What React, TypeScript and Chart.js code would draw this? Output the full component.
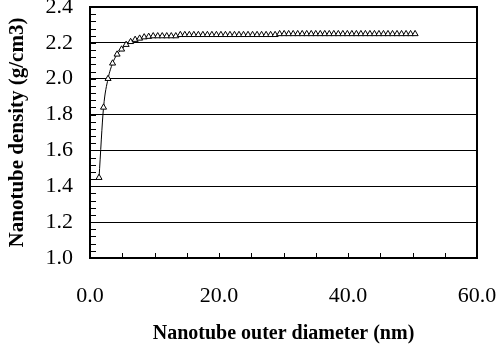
import React, { useEffect, useRef } from "react";
import { Chart, registerables } from "chart.js";

Chart.register(...registerables);

const diameters: number[] = [
  1.4, 2.1, 2.8, 3.5, 4.2, 4.9, 5.6, 6.3, 7.0, 7.7, 8.4, 9.1, 9.8, 10.5, 11.2, 11.9, 12.6, 13.3,
  14.0, 14.7, 15.4, 16.1, 16.8, 17.5, 18.2, 18.9, 19.6, 20.3, 21.0, 21.7, 22.4, 23.1, 23.8, 24.5,
  25.2, 25.9, 26.6, 27.3, 28.0, 28.7, 29.4, 30.1, 30.8, 31.5, 32.2, 32.9, 33.6, 34.3, 35.0, 35.7,
  36.4, 37.1, 37.8, 38.5, 39.2, 39.9, 40.6, 41.3, 42.0, 42.7, 43.4, 44.1, 44.8, 45.5, 46.2, 46.9,
  47.6, 48.3, 49.0, 49.7, 50.4,
];

const densities: number[] = [
  1.448, 1.84, 2.0, 2.086, 2.136, 2.164, 2.19, 2.206, 2.218, 2.225, 2.232, 2.235, 2.238, 2.238,
  2.238, 2.238, 2.238, 2.238,
  2.245, 2.245, 2.245, 2.245, 2.245, 2.245, 2.245, 2.245, 2.245, 2.245, 2.245, 2.245, 2.245,
  2.245, 2.245, 2.245, 2.245, 2.245, 2.245, 2.245, 2.245, 2.245,
  2.25, 2.25, 2.25, 2.25, 2.25, 2.25, 2.25, 2.25, 2.25, 2.25, 2.25, 2.25, 2.25, 2.25, 2.25,
  2.25, 2.25, 2.25, 2.25, 2.25, 2.25, 2.25, 2.25, 2.25, 2.25, 2.25, 2.25, 2.25, 2.25, 2.25, 2.25,
];

const xMajorLabels: number[] = [0, 20, 40, 60];
const yMin = 1.0;
const yMax = 2.4;
const yStep = 0.2;
const xMin = 0;
const xMax = 60;
const xMinorStep = 5;
const yMinorCount = 35; // 0.04 intervals

const FONT = "'Liberation Serif', 'Times New Roman', serif";

const frame = {
  id: "frame",
  afterDraw(chart: any) {
    const { ctx, chartArea } = chart;
    const xs = chart.scales.x;
    const ys = chart.scales.y;
    ctx.save();
    ctx.strokeStyle = "#000";
    ctx.lineWidth = 1;
    ctx.beginPath();
    for (let i = 0; i <= yMinorCount; i++) {
      const v = yMin + ((yMax - yMin) * i) / yMinorCount;
      const py = Math.round(ys.getPixelForValue(v)) + 0.5;
      ctx.moveTo(chartArea.left, py);
      ctx.lineTo(chartArea.left + 6, py);
    }
    for (let v = xMin; v <= xMax; v += xMinorStep) {
      const px = Math.round(xs.getPixelForValue(v)) + 0.5;
      ctx.moveTo(px, chartArea.bottom);
      ctx.lineTo(px, chartArea.bottom - 5);
    }
    ctx.stroke();
    ctx.lineWidth = 2;
    ctx.strokeRect(
      chartArea.left,
      chartArea.top,
      chartArea.right - chartArea.left,
      chartArea.bottom - chartArea.top
    );
    ctx.restore();
  },
};

export default function App() {
  const ref = useRef<HTMLCanvasElement | null>(null);
  useEffect(() => {
    document.body.style.margin = "0";
    if (!ref.current) return;
    const chart = new Chart(ref.current, {
      type: "line",
      data: {
        datasets: [
          {
            data: diameters.map((d, i) => ({ x: d, y: densities[i] })),
            borderColor: "#000",
            borderWidth: 1,
            pointStyle: "triangle",
            pointRadius: 3.5,
            pointBackgroundColor: "#fff",
            pointBorderColor: "#000",
            pointBorderWidth: 1,
            cubicInterpolationMode: "monotone",
            fill: false,
            clip: false,
          },
        ],
      },
      options: {
        animation: false,
        responsive: false,
        maintainAspectRatio: false,
        layout: { padding: { top: 7, right: 22, left: 0, bottom: 0 } },
        plugins: { legend: { display: false }, tooltip: { enabled: false } },
        scales: {
          x: {
            type: "linear",
            min: xMin,
            max: xMax,
            afterFit: (s: any) => {
              s.height = 95;
              s.paddingLeft = 0;
              s.paddingRight = 0;
            },
            afterBuildTicks: (s: any) => {
              s.ticks = xMajorLabels.map((v) => ({ value: v }));
            },
            grid: { display: false, drawTicks: false },
            border: { display: false },
            ticks: {
              padding: 25,
              color: "#000",
              font: { family: FONT, size: 22 },
              maxRotation: 0,
              autoSkip: false,
              callback: (v: any) => Number(v).toFixed(1),
            },
            title: {
              display: true,
              text: "Nanotube outer diameter (nm)",
              color: "#000",
              font: { family: FONT, size: 20, weight: "bold" },
              padding: { top: 0, bottom: 7 },
            },
          },
          y: {
            type: "linear",
            min: yMin,
            max: yMax,
            afterFit: (s: any) => {
              s.width = 90;
              s.paddingTop = 0;
              s.paddingBottom = 0;
            },
            grid: { color: "#000", lineWidth: 1, drawTicks: false },
            border: { display: false },
            ticks: {
              stepSize: yStep,
              padding: 17,
              color: "#000",
              font: { family: FONT, size: 22 },
              callback: (v: any) => Number(v).toFixed(1),
            },
            title: {
              display: true,
              text: "Nanotube density (g/cm3)",
              color: "#000",
              font: { family: FONT, size: 21, weight: "bold" },
              padding: { top: 5, bottom: 0 },
            },
          },
        },
      },
      plugins: [frame],
    });
    return () => chart.destroy();
  }, []);
  return (
    <div style={{ width: 499, height: 353 }}>
      <canvas ref={ref} width={499} height={353} style={{ display: "block" }} />
    </div>
  );
}
